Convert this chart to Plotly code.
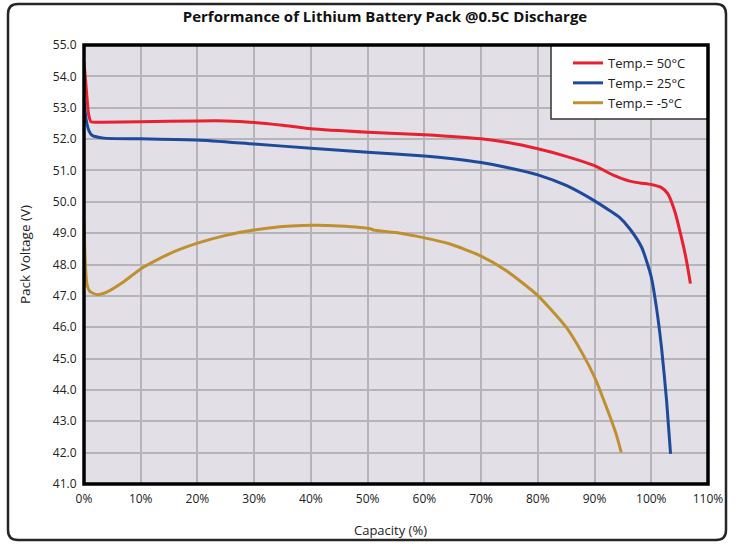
import plotly.graph_objects as go

# ---- data (capacity %, pack voltage V) ----
red_x = [0, 0.4, 0.8, 1.25, 3, 10, 20, 25, 30, 35, 40, 50, 60, 70, 75, 80, 85, 90, 93.2, 96.2, 98, 100, 101.8, 102.9, 104.1, 105.3, 106.2, 106.9]
red_y = [54.45, 53.6, 52.8, 52.55, 52.54, 52.55, 52.58, 52.58, 52.53, 52.44, 52.33, 52.22, 52.14, 52.01, 51.88, 51.69, 51.45, 51.15, 50.86, 50.66, 50.6, 50.55, 50.45, 50.26, 49.72, 48.87, 48.13, 47.39]

blue_x = [0, 0.4, 0.9, 1.4, 3.5, 10, 20, 30, 40, 50, 60, 65, 70, 75, 80, 85, 90, 92.5, 94.4, 96.2, 98.3, 100, 100.9, 101.8, 102.7, 103.4]
blue_y = [53.2, 52.6, 52.25, 52.12, 52.03, 52.01, 51.97, 51.84, 51.71, 51.58, 51.46, 51.37, 51.25, 51.08, 50.86, 50.52, 50.03, 49.74, 49.5, 49.14, 48.55, 47.6, 46.64, 45.36, 43.66, 41.96]

gold_x = [0, 0.2, 0.5, 1, 2.3, 4, 7, 10, 15, 20, 25, 30, 35, 40, 45, 50.5, 51, 55, 60, 64.4, 70, 74.4, 80, 85, 87.9, 90, 92.1, 93.8, 94.7]
gold_y = [49.4, 48.2, 47.4, 47.15, 47.04, 47.12, 47.45, 47.86, 48.34, 48.68, 48.93, 49.1, 49.21, 49.25, 49.23, 49.14, 49.1, 49.02, 48.85, 48.66, 48.27, 47.81, 47.01, 46.0, 45.15, 44.41, 43.45, 42.6, 42.01]

series_names = ["Temp.= 50°C", "Temp.= 25°C", "Temp.= -5°C"]
series_colors = ["#e8202f", "#1f4a9b", "#bf9030"]

x_ticks = list(range(0, 111, 10))
y_ticks = list(range(41, 56))

FONT = "Open Sans"
W, H = 739, 544
L, R, T, B = 84, 31, 45, 60
PW, PH = W - L - R, H - T - B


def px(x):
    return (x - L) / PW


def py(y):
    return (H - B - y) / PH


fig = go.Figure()
for xs, ys, name, col in zip([red_x, blue_x, gold_x], [red_y, blue_y, gold_y], series_names, series_colors):
    fig.add_trace(go.Scatter(x=xs, y=ys, mode="lines", name=name,
                             line=dict(color=col, width=3, shape="spline", smoothing=0.6)))

# outer rounded border
x0, x1, y0, y1, r = 8, 726, 4, 540, 10
path = (f"M{px(x0 + r)},{py(y0)} L{px(x1 - r)},{py(y0)} Q{px(x1)},{py(y0)} {px(x1)},{py(y0 + r)} "
        f"L{px(x1)},{py(y1 - r)} Q{px(x1)},{py(y1)} {px(x1 - r)},{py(y1)} "
        f"L{px(x0 + r)},{py(y1)} Q{px(x0)},{py(y1)} {px(x0)},{py(y1 - r)} "
        f"L{px(x0)},{py(y0 + r)} Q{px(x0)},{py(y0)} {px(x0 + r)},{py(y0)} Z")

shapes = [
    dict(type="path", xref="paper", yref="paper", path=path,
         line=dict(color="#262626", width=2.5), layer="above"),
    # legend box
    dict(type="rect", xref="paper", yref="paper", x0=px(551), x1=1, y0=py(119), y1=1,
         fillcolor="white", line=dict(color="#333333", width=1.5), layer="above"),
    # plot frame
    dict(type="rect", xref="paper", yref="paper", x0=0, x1=1, y0=0, y1=1,
         line=dict(color="black", width=3.5), layer="above"),
]

fig.update_layout(
    width=W, height=H,
    margin=dict(l=L, r=R, t=T, b=B),
    paper_bgcolor="white",
    plot_bgcolor="#e2dfe6",
    font=dict(family=FONT, size=12, color="#222222"),
    title=dict(text="<b>Performance of Lithium Battery Pack @0.5C Discharge</b>",
               x=385 / W, xanchor="center", y=1 - 17 / H, yanchor="middle",
               font=dict(family=FONT, size=15, color="#111111")),
    shapes=shapes,
    showlegend=True,
    legend=dict(x=px(568), y=py(48), xanchor="left", yanchor="top",
                bgcolor="rgba(0,0,0,0)", borderwidth=0,
                font=dict(family=FONT, size=13, color="#222222"),
                tracegroupgap=0),
    annotations=[
        dict(text="Capacity (%)", xref="paper", yref="paper", x=px(390), y=py(530),
             showarrow=False, xanchor="center", yanchor="middle",
             font=dict(family=FONT, size=13, color="#222222")),
        dict(text="Pack Voltage (V)", xref="paper", yref="paper", x=px(25), y=py(255),
             showarrow=False, xanchor="center", yanchor="middle", textangle=-90,
             font=dict(family=FONT, size=13.5, color="#222222")),
    ],
)

fig.update_xaxes(range=[0, 110], tickvals=x_ticks, ticktext=[f"{v}%" for v in x_ticks],
                 showgrid=True, gridcolor="#b5b5b9", gridwidth=1.5, zeroline=False,
                 ticks="outside", ticklen=4, tickcolor="rgba(0,0,0,0)",
                 tickfont=dict(family=FONT, size=12, color="#222222"))
fig.update_yaxes(range=[41, 55], tickvals=y_ticks, ticktext=[f"{v:.1f}" for v in y_ticks],
                 showgrid=True, gridcolor="#b5b5b9", gridwidth=1.5, zeroline=False,
                 ticks="outside", ticklen=4, tickcolor="rgba(0,0,0,0)",
                 tickfont=dict(family=FONT, size=12, color="#222222"))

fig.write_html("out.html", config={"displayModeBar": False},
               post_script="document.body.style.margin='0';")
